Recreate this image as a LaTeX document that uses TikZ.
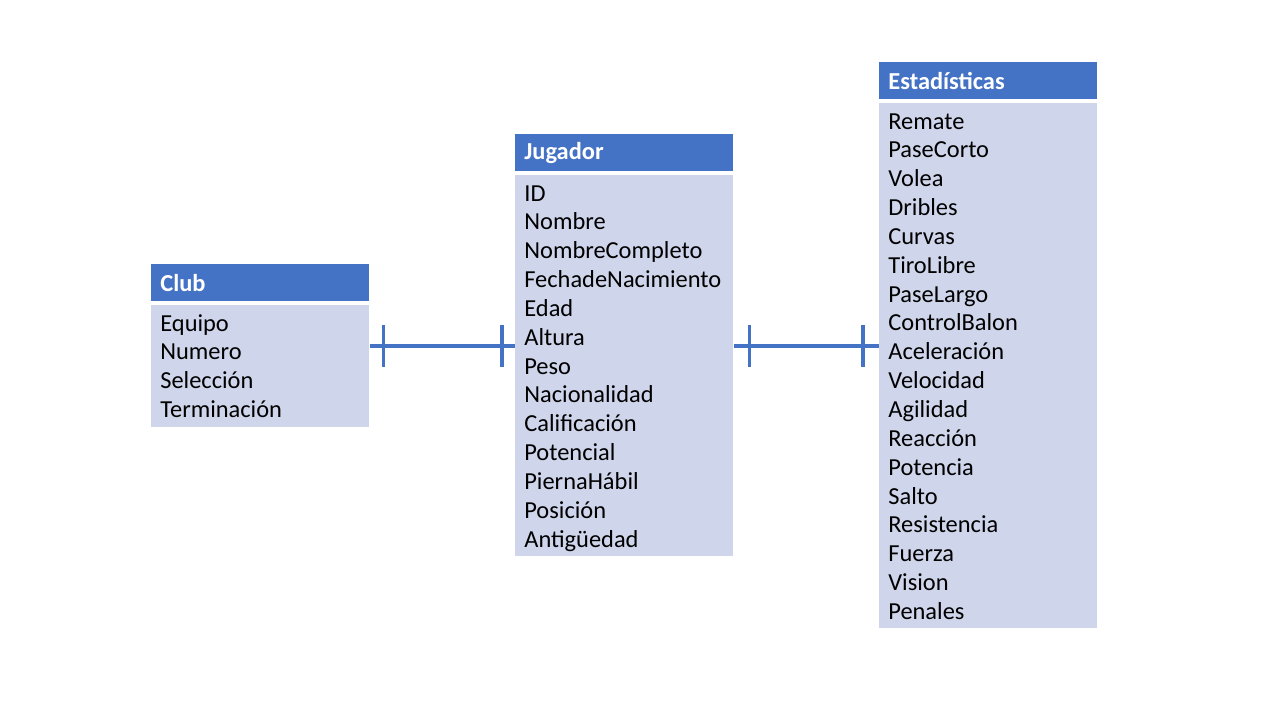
\documentclass[tikz,border=0pt]{standalone}
\usepackage{fontspec}
\setmainfont{Carlito}
\definecolor{azul}{HTML}{4472C4}
\definecolor{celeste}{HTML}{CFD5EA}

\tikzset{
  titulo/.style={anchor=north west, fill=azul, text=white,
    font=\bfseries\fontsize{13.9}{16}\selectfont,
    minimum width=4.36cm, minimum height=0.74cm, text width=4cm,
    inner xsep=0.18cm, inner ysep=0pt, align=left},
  cuerpo/.style={anchor=north west, fill=celeste, minimum width=4.36cm, inner sep=0pt},
  campo/.style={anchor=base west, inner sep=0pt, font=\fontsize{13.9}{16}\selectfont},
  rel/.style={draw=azul, line width=1.8pt},
}

\begin{document}
\begin{tikzpicture}[x=0.02cm, y=-0.02cm]
      \fill[white] (0,0) rectangle (1280,720);
      \useasboundingbox (0,0) rectangle (1280,720);

      % Club
      \node[titulo] (club) at (151,264) {Club};
      \node[cuerpo, minimum height=2.44cm] (clubcampos) at (151,305) {};
      \foreach \campo [count=\i] in {Equipo,Numero,Selección,Terminación}
        \node[campo] (club-\i) at (160,{331+(\i-1)*28.85}) {\campo};

      % Jugador
      \node[titulo] (jugador) at (515,134) {Jugador};
      \node[cuerpo, minimum height=7.62cm] (jugadorcampos) at (515,175) {};
      \foreach \campo [count=\i] in {ID,Nombre,NombreCompleto,FechadeNacimiento,Edad,Altura,Peso,
          Nacionalidad,Calificación,Potencial,PiernaHábil,Posición,Antigüedad}
        \node[campo] (jugador-\i) at (524,{201+(\i-1)*28.85}) {\campo};

      % Estadisticas
      \node[titulo] (estad) at (879,62) {Estadísticas};
      \node[cuerpo, minimum height=10.5cm] (estadcampos) at (879,103) {};
      \foreach \campo [count=\i] in {Remate,PaseCorto,Volea,Dribles,Curvas,TiroLibre,PaseLargo,
          ControlBalon,Aceleración,Velocidad,Agilidad,Reacción,Potencia,Salto,Resistencia,
          Fuerza,Vision,Penales}
        \node[campo] (estad-\i) at (888,{129+(\i-1)*28.85}) {\campo};

      % relaciones uno a uno
      \draw[rel] (clubcampos.east |- 0,346) -- (jugadorcampos.west |- 0,346);
      \draw[rel] (clubcampos.east |- 0,346) ++(14,-21) -- ++(0,42);
      \draw[rel] (jugadorcampos.west |- 0,346) ++(-13,-21) -- ++(0,42);

      \draw[rel] (jugadorcampos.east |- 0,346) -- (estadcampos.west |- 0,346);
      \draw[rel] (jugadorcampos.east |- 0,346) ++(16,-21) -- ++(0,42);
      \draw[rel] (estadcampos.west |- 0,346) ++(-16,-21) -- ++(0,42);

    \end{tikzpicture}
\end{document}
